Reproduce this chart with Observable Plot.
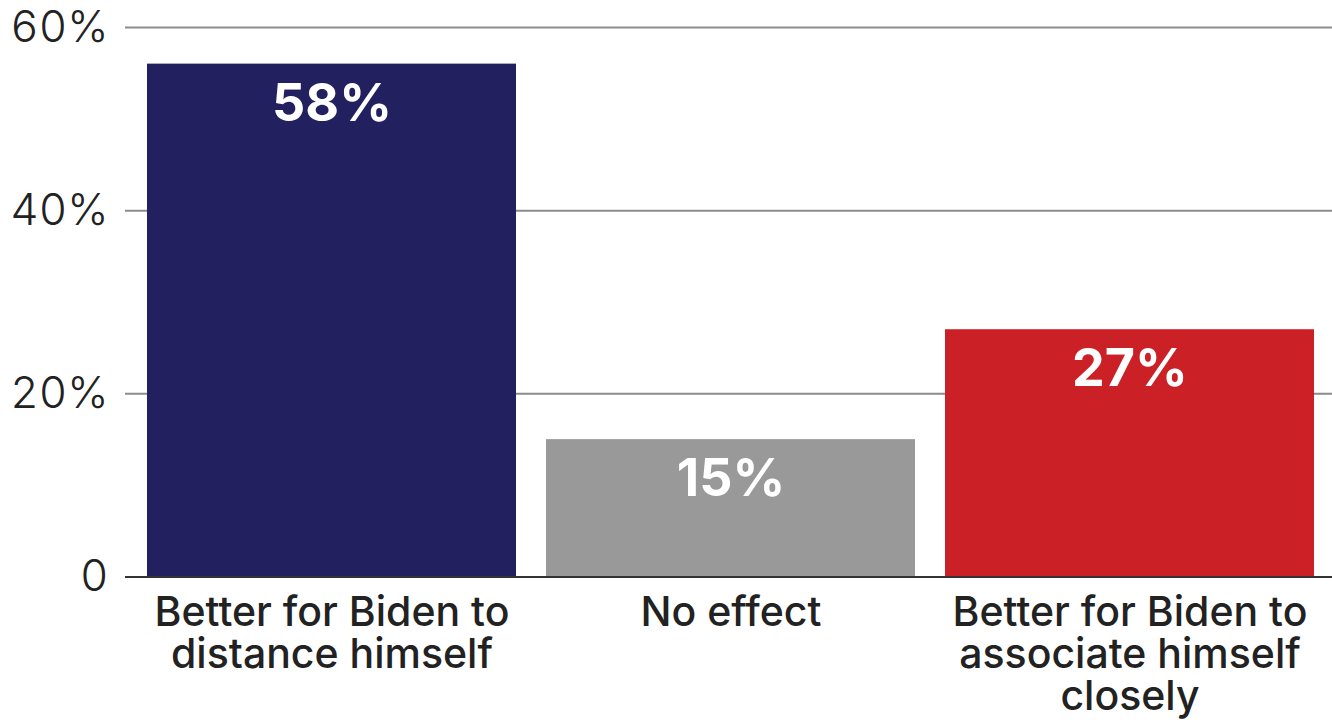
<!DOCTYPE html>
<html><head><meta charset="utf-8">
<script src="https://cdn.jsdelivr.net/npm/d3@7"></script>
<script src="https://cdn.jsdelivr.net/npm/@observablehq/plot@0.6"></script>
<style>body{margin:0;background:#fff}</style>
</head><body><div id="chart"></div>
<script>
const categories = ["Better for Biden to\ndistance himself", "No effect", "Better for Biden to\nassociate himself\nclosely"];
const barValues = [56, 15, 27];
const valueLabels = ["58%", "15%", "27%"];
const barColors = ["#23205f", "#999999", "#cc2027"];
const yTicks = [0, 20, 40, 60];
const yTickLabels = ["0", "20%", "40%", "60%"];

const data = categories.map((c, i) => ({category: c, value: barValues[i], label: valueLabels[i], color: barColors[i]}));

const plot = Plot.plot({
  width: 1332, height: 720,
  marginLeft: 125, marginRight: 0, marginTop: 27, marginBottom: 143.5,
  x: {domain: categories, range: [132, 1330], paddingInner: 0.075, paddingOuter: 0.0375},
  y: {domain: [0, 60]},
  style: {fontFamily: "Inter", background: "#fff", color: "#222"},
  marks: [
    Plot.ruleY(yTicks.filter(d => d > 0), {stroke: "#8c8c8c", strokeWidth: 2}),
    Plot.barY(data, {x: "category", y: "value", fill: "color"}),
    Plot.ruleY([0], {stroke: "#333", strokeWidth: 2}),
    Plot.axisY({ticks: yTicks, tickFormat: d => yTickLabels[yTicks.indexOf(d)], tickSize: 0, tickPadding: 17, fontSize: 44, fontWeight: 300, label: null}),
    Plot.axisX({tickSize: 0, tickPadding: 19, fontSize: 41, fontWeight: 500, lineHeight: 1.03, label: null, style: {letterSpacing: "-1.3px"}}),
    Plot.text(data, {x: "category", y: "value", text: "label", dy: 40, fill: "white", fontWeight: 700, fontSize: 52, lineAnchor: "middle", style: {letterSpacing: "3px"}})
  ]
});
document.getElementById("chart").appendChild(plot);
</script>
</body></html>
